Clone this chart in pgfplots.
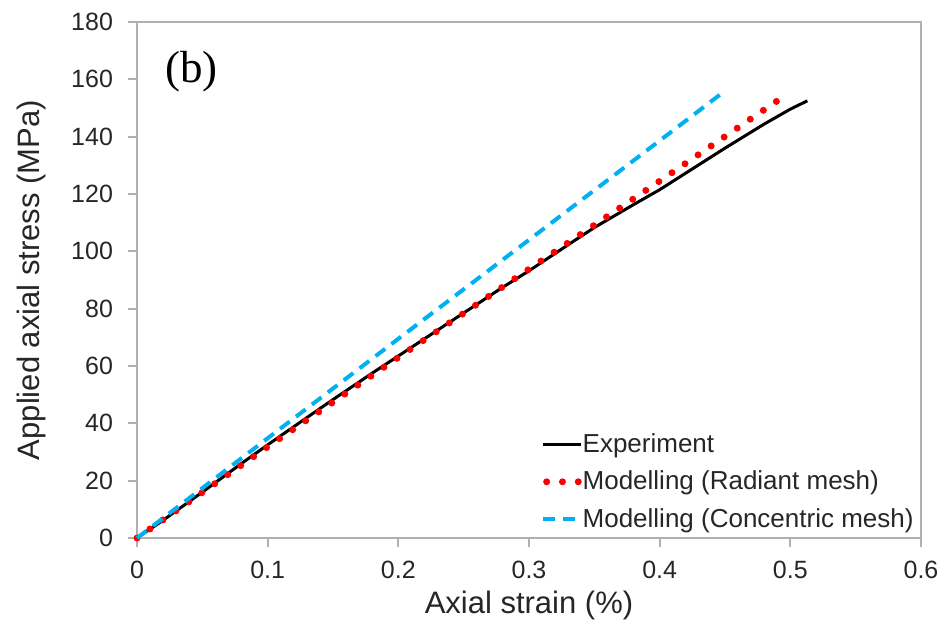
\documentclass[border=0pt]{standalone}
\usepackage{pgfplots}
\pgfplotsset{compat=1.18}
\usepackage{fontspec}
\setmainfont{Liberation Sans}
\newfontfamily\serifb{Liberation Serif}
\definecolor{axgray}{HTML}{B0B0B0}
\definecolor{txt}{HTML}{262626}
\definecolor{cblue}{HTML}{00B0F0}
\begin{document}
\begin{tikzpicture}
\begin{axis}[
  name=ax,
  scale only axis, width=392pt, height=258pt,
  xmin=0, xmax=0.6, ymin=0, ymax=180,
  xtick={0,0.1,...,0.6}, ytick={0,20,...,180},
  /pgf/number format/assume math mode=true,
  xticklabel style={/pgf/number format/fixed, /pgf/number format/precision=1, yshift=-3.5pt},
  yticklabel style={xshift=-4pt},
  axis line style={axgray, line width=1.3pt},
  tick style={axgray, line width=1pt},
  tick pos=left, tick align=outside, major tick length=4.5pt,
  tick label style={font=\fontsize{12.5}{14}\selectfont, text=txt},
  label style={font=\fontsize{15.5}{18}\selectfont, text=txt},
  xlabel={Axial strain (\%)}, ylabel={Applied axial stress (MPa)},
  xlabel style={at={(axis description cs:0.5,-0.13)}, anchor=center},
  ylabel style={at={(axis description cs:-0.134,0.5)}, anchor=center},
  legend style={draw=none, fill=none, at={(axis description cs:0.515,0.211)}, anchor=north west,
    font=\fontsize{13}{15}\selectfont, text=txt, row sep=3.75pt, inner sep=0pt,
    cells={anchor=west},
    /tikz/every odd column/.append style={column sep=-3pt}},
  legend cell align=left,
  clip=false,
]
\addplot[black, line width=1.5pt, line join=round,
  legend image code/.code={\draw[black, line width=1.5pt] (0pt,0pt) -- (19pt,0pt);}]
coordinates {(0,0) (0.02,6.2) (0.05,16) (0.08,26) (0.1,32.5) (0.13,42) (0.15,48.3) (0.18,57.5) (0.2,63.5) (0.23,72.5) (0.25,78.5) (0.28,87.5) (0.3,93.2) (0.33,102.3) (0.35,108.3) (0.38,116.3) (0.4,121.5) (0.43,130.2) (0.45,136) (0.48,144.4) (0.5,149.6) (0.513,152.5)};
\addlegendentry{Experiment}
\addplot[red, line width=3.5pt, line cap=round, dash pattern=on 0pt off 7.9pt,
  legend image code/.code={\draw[red, line width=3.5pt, line cap=round, dash pattern=on 0pt off 7.9pt] (1.75pt,0pt) -- (19pt,0pt);}]
coordinates {(0,0) (0.1,31.8) (0.2,63) (0.3,93.8) (0.4,124.5) (0.498,155)};
\addlegendentry{Modelling (Radiant mesh)}
\addplot[cblue, line width=2pt, dash pattern=on 6pt off 4pt,
  legend image code/.code={\draw[cblue, line width=2pt, dash pattern=on 6pt off 4pt] (0pt,0pt) -- (19pt,0pt);}]
coordinates {(0,0) (0.1,34.8) (0.2,69.5) (0.3,104) (0.4,138.6) (0.448,155.3)};
\addlegendentry{Modelling (Concentric mesh)}
\node[font=\serifb\fontsize{22.5}{26}\selectfont, text=black] at (axis description cs:0.0695,0.903) {(b)};
\end{axis}
\draw[axgray, line width=1.3pt] (ax.north west) -- (ax.north east) -- (ax.south east);
\pgfresetboundingbox
\path[use as bounding box] ([xshift=-68.5pt,yshift=-44pt]ax.south west) rectangle ([xshift=13pt,yshift=11pt]ax.north east);
\end{tikzpicture}
\end{document}
